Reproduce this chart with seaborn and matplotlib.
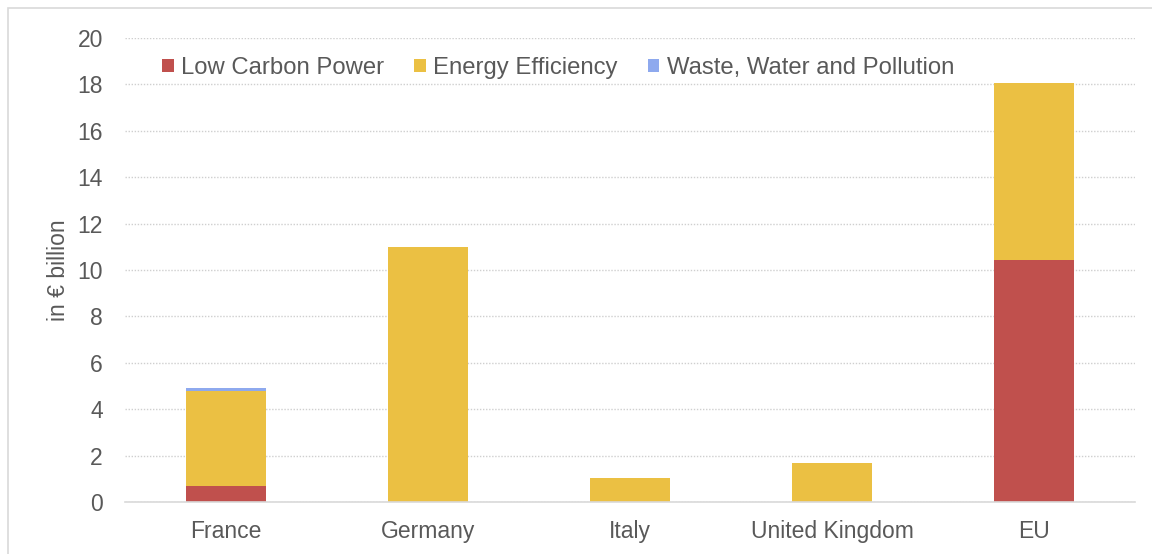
import matplotlib
matplotlib.use("Agg")
import matplotlib.pyplot as plt
from matplotlib.patches import Patch, Rectangle
import numpy as np
import pandas as pd
import seaborn as sns

# Green investment by country, in € billion
countries = ["France", "Germany", "Italy", "United Kingdom", "EU"]
low_carbon_power = [0.70, 0.0, 0.0, 0.0, 10.43]
energy_efficiency = [4.08, 11.0, 1.03, 1.70, 7.63]
waste_water_pollution = [0.15, 0.0, 0.0, 0.0, 0.0]

series_names = ["Low Carbon Power", "Energy Efficiency", "Waste, Water and Pollution"]
series_colors = ["#C0504D", "#EBC043", "#8EA9EE"]
y_ticks = [0, 2, 4, 6, 8, 10, 12, 14, 16, 18, 20]

sns.set_theme(style="white")
plt.rcParams["font.family"] = ["Liberation Sans", "DejaVu Sans"]
text_color = "#595959"

df = pd.DataFrame({
    "country": countries,
    series_names[0]: low_carbon_power,
    series_names[1]: energy_efficiency,
    series_names[2]: waste_water_pollution,
})

# cumulative tops so that each layer is drawn over the one above it
layers = df[series_names].cumsum(axis=1)

fig = plt.figure(figsize=(11.52, 5.54), dpi=100)
ax = fig.add_axes([125 / 1152, 52 / 554, 1010 / 1152, 464 / 554])

for name, color in reversed(list(zip(series_names, series_colors))):
    sns.barplot(x=df["country"], y=layers[name], color=color, width=0.4,
                linewidth=0, saturation=1, ax=ax, order=countries)

ax.set_ylim(0, 20)
ax.set_xlim(-0.5, len(countries) - 0.5)
ax.set_yticks(y_ticks)
ax.set_yticklabels([str(t) for t in y_ticks])
ax.yaxis.grid(True, color="#CFCFCF", linestyle=(0, (1, 1.2)), linewidth=1.0)
ax.set_axisbelow(True)
for s in ["top", "right", "left"]:
    ax.spines[s].set_visible(False)
ax.spines["bottom"].set_color("#D9D9D9")
ax.spines["bottom"].set_linewidth(1.2)
ax.tick_params(axis="both", length=0, labelsize=16.5, colors=text_color)
ax.tick_params(axis="x", pad=13)
ax.tick_params(axis="y", pad=16)
ax.set_xlabel("")
ax.set_ylabel("in € billion", fontsize=16.5, color=text_color, labelpad=5)

handles = [Patch(facecolor=c, edgecolor="none") for c in series_colors]
leg = ax.legend(handles, series_names, loc="center left", bbox_to_anchor=(0.0366, 0.935),
                ncol=3, frameon=False, fontsize=17.2, handlelength=0.5, handleheight=0.5,
                handletextpad=0.3, columnspacing=1.25, labelcolor=text_color,
                borderaxespad=0, borderpad=0)

# light frame around the chart
fig.patches.append(Rectangle((8 / 1152, -0.01), 1.02, 1 - 8 / 554 + 0.01,
                             transform=fig.transFigure, fill=False,
                             edgecolor="#D9D9D9", linewidth=1.2))

fig.savefig("out.png", dpi=100, facecolor="white")
